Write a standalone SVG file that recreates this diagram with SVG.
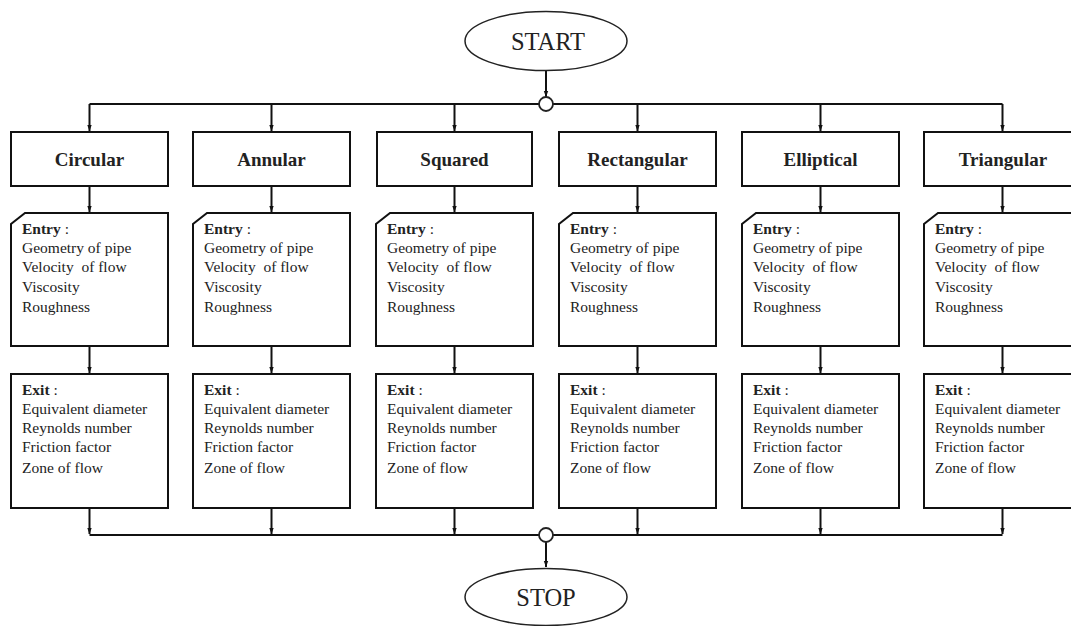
<svg xmlns="http://www.w3.org/2000/svg" width="1071" height="626" viewBox="0 0 1071 626">
<style>
.box{fill:#fff;stroke:#111;stroke-width:2}
.ln{fill:none;stroke:#111;stroke-width:2}
.term{fill:#fff;stroke:#222;stroke-width:1.5}
.jn{fill:#fff;stroke:#222;stroke-width:1.8}
.t{font-family:"Liberation Serif","Times New Roman",serif;fill:#222}
.title{font-size:19px;font-weight:bold;text-anchor:middle}
.big{font-size:24.5px;text-anchor:middle}
.body{font-size:15.5px;white-space:pre}
.b{font-weight:bold}
</style>
<defs>
<marker id="ah" markerUnits="userSpaceOnUse" markerWidth="6" markerHeight="7" refX="3" refY="6" orient="auto-start-reverse" viewBox="0 0 6 7">
<path d="M0.5,0 L3,6.5 L5.5,0 Z" fill="#111" transform="rotate(-90 3 3.5)"/>
</marker>
<marker id="a" markerUnits="userSpaceOnUse" markerWidth="6" markerHeight="6" refX="6" refY="3" orient="auto" viewBox="0 0 6 6">
<path d="M0,0.8 L6,3 L0,5.2 Z" fill="#111"/>
</marker>
</defs>
<g id="connectors">
<path class="ln" d="M546,70.5 V97" marker-end="url(#a)"/>
<path class="ln" d="M89.5,104 H539 M553,104 H1002.5"/>
<path class="ln" d="M89.5,104 V131" marker-end="url(#a)"/>
<path class="ln" d="M271.5,104 V131" marker-end="url(#a)"/>
<path class="ln" d="M454.5,104 V131" marker-end="url(#a)"/>
<path class="ln" d="M637.5,104 V131" marker-end="url(#a)"/>
<path class="ln" d="M820.5,104 V131" marker-end="url(#a)"/>
<path class="ln" d="M1002.5,104 V131" marker-end="url(#a)"/>
<path class="ln" d="M89.5,186 V212" marker-end="url(#a)"/>
<path class="ln" d="M271.5,186 V212" marker-end="url(#a)"/>
<path class="ln" d="M454.5,186 V212" marker-end="url(#a)"/>
<path class="ln" d="M637.5,186 V212" marker-end="url(#a)"/>
<path class="ln" d="M820.5,186 V212" marker-end="url(#a)"/>
<path class="ln" d="M1002.5,186 V212" marker-end="url(#a)"/>
<path class="ln" d="M89.5,346 V373" marker-end="url(#a)"/>
<path class="ln" d="M271.5,346 V373" marker-end="url(#a)"/>
<path class="ln" d="M454.5,346 V373" marker-end="url(#a)"/>
<path class="ln" d="M637.5,346 V373" marker-end="url(#a)"/>
<path class="ln" d="M820.5,346 V373" marker-end="url(#a)"/>
<path class="ln" d="M1002.5,346 V373" marker-end="url(#a)"/>
<path class="ln" d="M89.5,508 V534" marker-end="url(#a)"/>
<path class="ln" d="M271.5,508 V534" marker-end="url(#a)"/>
<path class="ln" d="M454.5,508 V534" marker-end="url(#a)"/>
<path class="ln" d="M637.5,508 V534" marker-end="url(#a)"/>
<path class="ln" d="M820.5,508 V534" marker-end="url(#a)"/>
<path class="ln" d="M1002.5,508 V534" marker-end="url(#a)"/>
<path class="ln" d="M89.5,535 H539 M553,535 H1002.5"/>
<path class="ln" d="M546,542 V567" marker-end="url(#a)"/>
</g>
<g id="start">
<ellipse class="term" cx="546" cy="41" rx="81" ry="29.5"/>
<text class="t big" x="548" y="49.5">START</text>
</g>
<g id="junction-top"><circle class="jn" cx="546" cy="104" r="7"/></g>
<g id="junction-bottom"><circle class="jn" cx="546" cy="535" r="7"/></g>
<g id="stop">
<ellipse class="term" cx="546" cy="597" rx="81" ry="28.5"/>
<text class="t big" x="546" y="606">STOP</text>
</g>

<g id="circular">
<rect class="box" x="11" y="132" width="157" height="54"/>
<text class="t title" x="89.5" y="166">Circular</text>
</g>
<g id="annular">
<rect class="box" x="193" y="132" width="157" height="54"/>
<text class="t title" x="271.5" y="166">Annular</text>
</g>
<g id="squared">
<rect class="box" x="377" y="132" width="155" height="54"/>
<text class="t title" x="454.5" y="166">Squared</text>
</g>
<g id="rectangular">
<rect class="box" x="559" y="132" width="157" height="54"/>
<text class="t title" x="637.5" y="166">Rectangular</text>
</g>
<g id="elliptical">
<rect class="box" x="742" y="132" width="157" height="54"/>
<text class="t title" x="820.5" y="166">Elliptical</text>
</g>
<g id="triangular">
<rect class="box" x="924" y="132" width="157" height="54"/>
<text class="t title" x="1003" y="166">Triangular</text>
</g>

<g id="entry-circular">
<path class="box" d="M25,213 H168 V346 H11 V224 Z"/>
<text class="t body" x="22" y="234"><tspan class="b">Entry</tspan> :</text>
<text class="t body" x="22" y="253">Geometry of pipe</text>
<text class="t body" x="22" y="272">Velocity  of flow</text>
<text class="t body" x="22" y="292">Viscosity</text>
<text class="t body" x="22" y="312">Roughness</text>
</g>
<g id="entry-annular">
<path class="box" d="M207,213 H350 V346 H193 V224 Z"/>
<text class="t body" x="204" y="234"><tspan class="b">Entry</tspan> :</text>
<text class="t body" x="204" y="253">Geometry of pipe</text>
<text class="t body" x="204" y="272">Velocity  of flow</text>
<text class="t body" x="204" y="292">Viscosity</text>
<text class="t body" x="204" y="312">Roughness</text>
</g>
<g id="entry-squared">
<path class="box" d="M390,213 H533 V346 H376 V224 Z"/>
<text class="t body" x="387" y="234"><tspan class="b">Entry</tspan> :</text>
<text class="t body" x="387" y="253">Geometry of pipe</text>
<text class="t body" x="387" y="272">Velocity  of flow</text>
<text class="t body" x="387" y="292">Viscosity</text>
<text class="t body" x="387" y="312">Roughness</text>
</g>
<g id="entry-rectangular">
<path class="box" d="M573,213 H716 V346 H559 V224 Z"/>
<text class="t body" x="570" y="234"><tspan class="b">Entry</tspan> :</text>
<text class="t body" x="570" y="253">Geometry of pipe</text>
<text class="t body" x="570" y="272">Velocity  of flow</text>
<text class="t body" x="570" y="292">Viscosity</text>
<text class="t body" x="570" y="312">Roughness</text>
</g>
<g id="entry-elliptical">
<path class="box" d="M756,213 H899 V346 H742 V224 Z"/>
<text class="t body" x="753" y="234"><tspan class="b">Entry</tspan> :</text>
<text class="t body" x="753" y="253">Geometry of pipe</text>
<text class="t body" x="753" y="272">Velocity  of flow</text>
<text class="t body" x="753" y="292">Viscosity</text>
<text class="t body" x="753" y="312">Roughness</text>
</g>
<g id="entry-triangular">
<path class="box" d="M938,213 H1081 V346 H924 V224 Z"/>
<text class="t body" x="935" y="234"><tspan class="b">Entry</tspan> :</text>
<text class="t body" x="935" y="253">Geometry of pipe</text>
<text class="t body" x="935" y="272">Velocity  of flow</text>
<text class="t body" x="935" y="292">Viscosity</text>
<text class="t body" x="935" y="312">Roughness</text>
</g>

<g id="exit-circular">
<rect class="box" x="11" y="374" width="157" height="134"/>
<text class="t body" x="22" y="395"><tspan class="b">Exit</tspan> :</text>
<text class="t body" x="22" y="414">Equivalent diameter</text>
<text class="t body" x="22" y="433">Reynolds number</text>
<text class="t body" x="22" y="452">Friction factor</text>
<text class="t body" x="22" y="473">Zone of flow</text>
</g>
<g id="exit-annular">
<rect class="box" x="193" y="374" width="157" height="134"/>
<text class="t body" x="204" y="395"><tspan class="b">Exit</tspan> :</text>
<text class="t body" x="204" y="414">Equivalent diameter</text>
<text class="t body" x="204" y="433">Reynolds number</text>
<text class="t body" x="204" y="452">Friction factor</text>
<text class="t body" x="204" y="473">Zone of flow</text>
</g>
<g id="exit-squared">
<rect class="box" x="376" y="374" width="157" height="134"/>
<text class="t body" x="387" y="395"><tspan class="b">Exit</tspan> :</text>
<text class="t body" x="387" y="414">Equivalent diameter</text>
<text class="t body" x="387" y="433">Reynolds number</text>
<text class="t body" x="387" y="452">Friction factor</text>
<text class="t body" x="387" y="473">Zone of flow</text>
</g>
<g id="exit-rectangular">
<rect class="box" x="559" y="374" width="157" height="134"/>
<text class="t body" x="570" y="395"><tspan class="b">Exit</tspan> :</text>
<text class="t body" x="570" y="414">Equivalent diameter</text>
<text class="t body" x="570" y="433">Reynolds number</text>
<text class="t body" x="570" y="452">Friction factor</text>
<text class="t body" x="570" y="473">Zone of flow</text>
</g>
<g id="exit-elliptical">
<rect class="box" x="742" y="374" width="157" height="134"/>
<text class="t body" x="753" y="395"><tspan class="b">Exit</tspan> :</text>
<text class="t body" x="753" y="414">Equivalent diameter</text>
<text class="t body" x="753" y="433">Reynolds number</text>
<text class="t body" x="753" y="452">Friction factor</text>
<text class="t body" x="753" y="473">Zone of flow</text>
</g>
<g id="exit-triangular">
<rect class="box" x="924" y="374" width="157" height="134"/>
<text class="t body" x="935" y="395"><tspan class="b">Exit</tspan> :</text>
<text class="t body" x="935" y="414">Equivalent diameter</text>
<text class="t body" x="935" y="433">Reynolds number</text>
<text class="t body" x="935" y="452">Friction factor</text>
<text class="t body" x="935" y="473">Zone of flow</text>
</g>
</svg>
